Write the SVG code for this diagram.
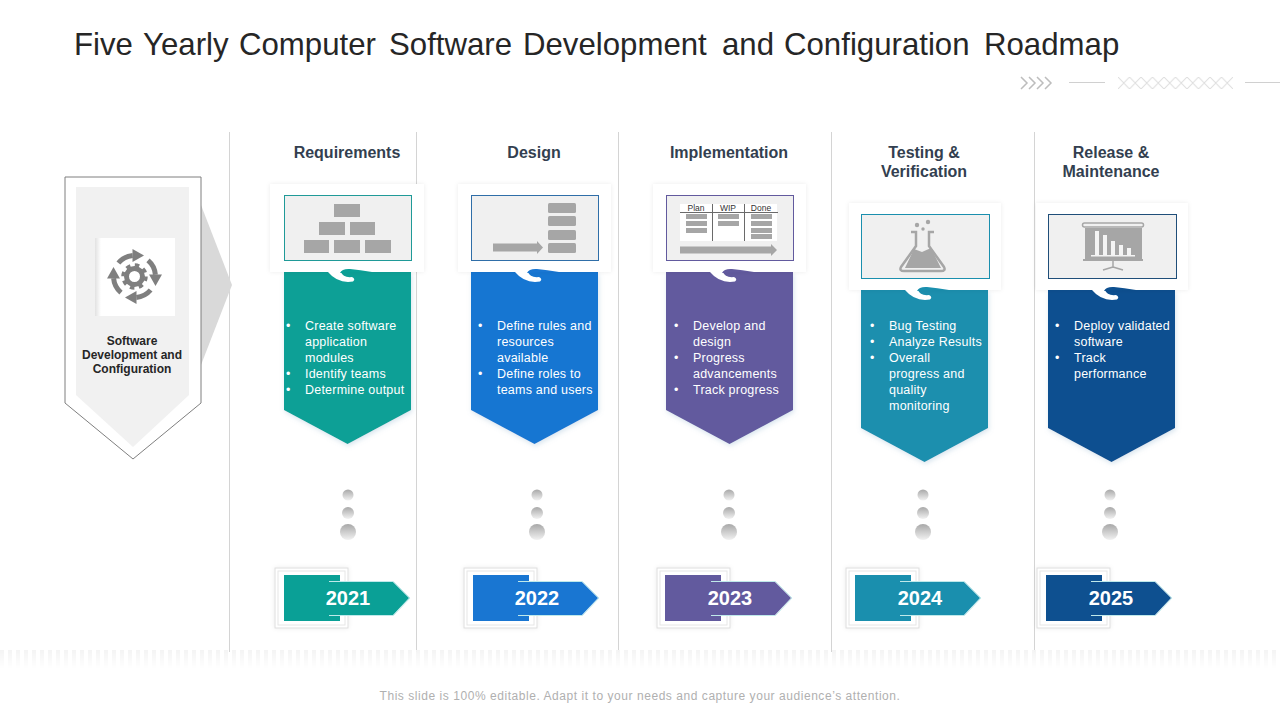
<svg xmlns="http://www.w3.org/2000/svg" xmlns:xlink="http://www.w3.org/1999/xlink" width="1280" height="720" viewBox="0 0 1280 720">
<style>
text{font-family:"Liberation Sans",Arial,sans-serif}
.title{font-size:31.2px;fill:#262626}
.head{font-size:16px;font-weight:700;fill:#333f50;text-anchor:middle}
.body{font-size:12.5px;fill:#fff;letter-spacing:.22px}
.year{font-size:20px;font-weight:700;fill:#fff;text-anchor:middle}
.side{font-size:12px;font-weight:700;fill:#262626;text-anchor:middle}
.foot{font-size:12px;fill:#b0b0b0;text-anchor:middle;letter-spacing:.55px}
.ico{fill:#a6a6a6}
.sep{stroke:#d4d4d4;stroke-width:1;fill:none}
.deco{stroke:#d0d0d0;stroke-width:1;fill:none}
.inner{fill:#f0f0f0;stroke-width:1}
.card{fill:#fff;filter:url(#soft)}
.tagline{fill:none;stroke:#bfe9ea;stroke-width:1}
</style>
<defs>
<filter id="soft" x="-10%" y="-10%" width="120%" height="125%"><feDropShadow dx="0" dy="0" stdDeviation="2" flood-color="#000" flood-opacity=".08"/></filter>
<filter id="glow" x="-10%" y="-10%" width="120%" height="120%"><feDropShadow dx="1" dy="2" stdDeviation="2.5" flood-color="#7fa8c8" flood-opacity=".3"/></filter>
<linearGradient id="ball" x1="0" y1="0" x2="0" y2="1"><stop offset="0" stop-color="#a8a8a8"/><stop offset="1" stop-color="#f2f2f2"/></linearGradient>
<linearGradient id="edge" x1="0" y1="0" x2="1" y2="0"><stop offset="0" stop-color="#e2e2e2"/><stop offset="1" stop-color="#fff"/></linearGradient>
<linearGradient id="fade" x1="0" y1="0" x2="0" y2="1"><stop offset="0" stop-color="#fff"/><stop offset="1" stop-color="#000"/></linearGradient>
<mask id="fadeMask"><rect x="0" y="650" width="1280" height="19" fill="url(#fade)"/></mask>
<pattern id="stripes" width="8" height="20" patternUnits="userSpaceOnUse"><rect width="4" height="20" fill="#f4f4f4"/></pattern>
<pattern id="crosses" width="11.5" height="12" patternUnits="userSpaceOnUse" x="1118" y="77"><path d="M0 0L11.5 12M11.5 0L0 12" stroke="#dedede" stroke-width="1" fill="none"/></pattern>
<path id="chev" d="M0 0H127V138L63.5 172L0 138Z" filter="url(#glow)"/>
<path id="swoosh" d="M44 0Q54 12 69 9.5Q72 7 68 5Q59 6 57 0Z" fill="#fff"/>
<path id="bump" d="M56 1Q58-3.500 66-3Q76-2 88 0Z"/>
<g id="dots"><ellipse cx="0" cy="0" rx="5.500" ry="5.500" fill="url(#ball)"/><ellipse cx="0" cy="18" rx="6" ry="6" fill="url(#ball)"/><ellipse cx="0" cy="37" rx="8" ry="8" fill="url(#ball)"/></g>
<g id="frame"><rect x="0" y="0" width="73" height="60" fill="#fff" stroke="#dedede" filter="url(#soft)"/><rect x="3" y="3" width="67" height="54" fill="#fff" stroke="#e6e6e6"/></g>
<g id="tagEdge"><path class="tagline" d="M54 13.500H118.500L135 30L118.500 47.500H54"/></g>
<path id="tagArrow" d="M54 14H118L134 30L118 47H54Z"/>
<g id="rot"><path d="M118.400 263A21 21 0 0 1 132.700 255.600" fill="none" stroke="#7f7f7f" stroke-width="5"/><polygon points="132.500,249 132.500,262 144,255.500" fill="#7f7f7f"/></g>
</defs>
<rect width="1280" height="720" fill="#fff"/>

<text class="title" y="55"><tspan x="74">Five</tspan> <tspan x="143">Yearly</tspan> <tspan x="239">Computer</tspan> <tspan x="389">Software</tspan> <tspan x="523">Development</tspan> <tspan x="722">and</tspan> <tspan x="784">Configuration</tspan> <tspan x="984">Roadmap</tspan></text>

<g id="top-deco">
<path class="deco" style="stroke:#bdbdbd;stroke-width:1.500" d="M1021 77L1027 83L1021 89M1029 77L1035 83L1029 89M1037 77L1043 83L1037 89M1045 77L1051 83L1045 89"/>
<path class="deco" d="M1069 82.500H1105M1245 82.500H1280"/>
<rect x="1118" y="77" width="115" height="12" fill="url(#crosses)"/>
</g>

<g id="separators">
<path class="sep" d="M229.500 132V652M416.500 132V652M618.500 132V652M831.500 132V652M1034.500 132V652"/>
</g>

<g id="source-node">
<polygon points="201,205 232,285 201,365" fill="#d9d9d9"/>
<polygon points="65,177 201,177 201,403 133,459 65,403" fill="#fff" stroke="#7f7f7f" stroke-width="1"/>
<polygon points="76,187 189,187 189,395 133,447 76,395" fill="#f1f1f1"/>
<rect x="95" y="238" width="80" height="78" fill="#fff"/>
<rect x="95" y="238" width="6" height="78" fill="url(#edge)"/>
<use xlink:href="#rot" href="#rot"/>
<use xlink:href="#rot" href="#rot" transform="rotate(90 134.500 276.500)"/>
<use xlink:href="#rot" href="#rot" transform="rotate(180 134.500 276.500)"/>
<use xlink:href="#rot" href="#rot" transform="rotate(270 134.500 276.500)"/>
<circle cx="134.500" cy="276.500" r="8" fill="none" stroke="#7f7f7f" stroke-width="5"/>
<circle cx="134.500" cy="276.500" r="11.500" fill="none" stroke="#7f7f7f" stroke-width="3.500" stroke-dasharray="4.500 4.530"/>
<text class="side"><tspan x="132" y="345">Software</tspan><tspan x="132" y="359">Development and</tspan><tspan x="132" y="373">Configuration</tspan></text>
</g>

<g id="step-requirements">
<text class="head" x="347" y="158">Requirements</text>
<use href="#chev" x="284" y="272" fill="#0aa096"/>
<rect class="card" x="270" y="184" width="154" height="88"/>
<use href="#swoosh" x="284" y="272"/>
<use href="#bump" x="284" y="272" fill="#0aa096"/>
<rect class="inner" x="284.500" y="195.500" width="127" height="65" stroke="#1f9a98"/>
<g class="ico"><rect x="334" y="204" width="26" height="13"/><rect x="319" y="222" width="26" height="13"/><rect x="350" y="222" width="25" height="13"/><rect x="304" y="240" width="25" height="13"/><rect x="334" y="240" width="26" height="13"/><rect x="365" y="240" width="26" height="13"/></g>
<text class="body"><tspan x="286" y="330">•</tspan><tspan x="305" y="330">Create software</tspan><tspan x="305" y="346">application</tspan><tspan x="305" y="362">modules</tspan><tspan x="286" y="378">•</tspan><tspan x="305" y="378">Identify teams</tspan><tspan x="286" y="394">•</tspan><tspan x="305" y="394">Determine output</tspan></text>
<use href="#dots" x="348" y="495"/>
<g transform="translate(275 568)"><use href="#frame"/><rect x="9" y="7" width="56" height="46" fill="#0aa096"/><use href="#tagEdge"/><use href="#tagArrow" fill="#0aa096"/><text class="year" x="73" y="37">2021</text></g>
</g>

<g id="step-design">
<text class="head" x="534" y="158">Design</text>
<use href="#chev" x="471" y="272" fill="#1976d2"/>
<rect class="card" x="458" y="184" width="153" height="88"/>
<use href="#swoosh" x="471" y="272"/>
<use href="#bump" x="471" y="272" fill="#1976d2"/>
<rect class="inner" x="471.500" y="195.500" width="127" height="65" stroke="#2f6ea8"/>
<g class="ico"><rect x="548" y="203" width="28" height="10" rx="1.500"/><rect x="548" y="216" width="28" height="10" rx="1.500"/><rect x="548" y="230" width="28" height="10" rx="1.500"/><rect x="548" y="243" width="28" height="10" rx="1.500"/><polygon points="493,243.500 537,243.500 537,241 543,247.500 537,254 537,251.500 493,251.500"/></g>
<text class="body"><tspan x="478" y="330">•</tspan><tspan x="497" y="330">Define rules and</tspan><tspan x="497" y="346">resources</tspan><tspan x="497" y="362">available</tspan><tspan x="478" y="378">•</tspan><tspan x="497" y="378">Define roles to</tspan><tspan x="497" y="394">teams and users</tspan></text>
<use href="#dots" x="537" y="495"/>
<g transform="translate(464 568)"><use href="#frame"/><rect x="9" y="7" width="56" height="46" fill="#1976d2"/><use href="#tagEdge"/><use href="#tagArrow" fill="#1976d2"/><text class="year" x="73" y="37">2022</text></g>
</g>

<g id="step-implementation">
<text class="head" x="729" y="158">Implementation</text>
<use href="#chev" x="666" y="272" fill="#625a9e"/>
<rect class="card" x="653" y="184" width="153" height="88"/>
<use href="#swoosh" x="666" y="272"/>
<use href="#bump" x="666" y="272" fill="#625a9e"/>
<rect class="inner" x="666.500" y="195.500" width="127" height="65" stroke="#625a9e"/>
<rect x="680" y="204" width="97" height="37" fill="#fff"/>
<path d="M680 212.500H778M712.500 204V241M744.500 204V241" stroke="#6a6a6a" stroke-width="1" fill="none"/>
<g font-size="8.500" fill="#333" text-anchor="middle"><text x="696" y="211">Plan</text><text x="728" y="211">WIP</text><text x="761" y="211">Done</text></g>
<g class="ico"><rect x="686" y="214" width="21" height="5"/><rect x="686" y="221" width="21" height="5"/><rect x="686" y="228" width="21" height="5"/><rect x="718" y="214" width="21" height="5"/><rect x="718" y="221" width="21" height="5"/><rect x="751" y="214" width="21" height="5"/><rect x="751" y="221" width="21" height="5"/><rect x="751" y="228" width="21" height="5"/><rect x="751" y="234" width="21" height="5"/><polygon points="680,246.500 771,246.500 771,244 777,250 771,256 771,253.500 680,253.500"/></g>
<text class="body"><tspan x="674" y="330">•</tspan><tspan x="693" y="330">Develop and</tspan><tspan x="693" y="346">design</tspan><tspan x="674" y="362">•</tspan><tspan x="693" y="362">Progress</tspan><tspan x="693" y="378">advancements</tspan><tspan x="674" y="394">•</tspan><tspan x="693" y="394">Track progress</tspan></text>
<use href="#dots" x="729" y="495"/>
<g transform="translate(657 568)"><use href="#frame"/><rect x="8" y="7" width="56" height="46" fill="#625a9e"/><use href="#tagEdge"/><use href="#tagArrow" fill="#625a9e"/><text class="year" x="73" y="37">2023</text></g>
</g>

<g id="step-testing">
<text class="head"><tspan x="924" y="158">Testing &amp;</tspan><tspan x="924" y="177">Verification</tspan></text>
<use href="#chev" x="861" y="290" fill="#1a8fae"/>
<rect class="card" x="849" y="203" width="152" height="87"/>
<use href="#swoosh" x="861" y="290"/>
<use href="#bump" x="861" y="290" fill="#1a8fae"/>
<rect class="inner" x="861.500" y="214.500" width="128" height="64" stroke="#1a8fae"/>
<g class="ico"><circle cx="917" cy="225" r="2.200"/><circle cx="923" cy="229" r="1.700"/><circle cx="928" cy="222" r="2.200"/>
<path d="M911 232H916V246L901 267Q899 271 904 271H941Q946 271 944 267L929 246V232H934" fill="none" stroke="#a6a6a6" stroke-width="2.500"/>
<path d="M914 249L922 252L931 248L941 268H905Z"/></g>
<text class="body"><tspan x="870" y="330">•</tspan><tspan x="889" y="330">Bug Testing</tspan><tspan x="870" y="346">•</tspan><tspan x="889" y="346">Analyze Results</tspan><tspan x="870" y="362">•</tspan><tspan x="889" y="362">Overall</tspan><tspan x="889" y="378">progress and</tspan><tspan x="889" y="394">quality</tspan><tspan x="889" y="410">monitoring</tspan></text>
<use href="#dots" x="923" y="495"/>
<g transform="translate(846 568)"><use href="#frame"/><rect x="9" y="7" width="56" height="46" fill="#1a8fae"/><use href="#tagEdge"/><use href="#tagArrow" fill="#1a8fae"/><text class="year" x="74" y="37">2024</text></g>
</g>

<g id="step-release">
<text class="head"><tspan x="1111" y="158">Release &amp;</tspan><tspan x="1111" y="177">Maintenance</tspan></text>
<use href="#chev" x="1048" y="290" fill="#0e5090"/>
<rect class="card" x="1036" y="203" width="152" height="87"/>
<use href="#swoosh" x="1048" y="290"/>
<use href="#bump" x="1048" y="290" fill="#0e5090"/>
<rect class="inner" x="1048.500" y="214.500" width="128" height="64" stroke="#1f4e79"/>
<rect x="1082.500" y="223" width="61" height="4" rx="2" fill="#f0f0f0" stroke="#a6a6a6" stroke-width="1.500"/>
<rect class="ico" x="1085" y="228" width="57" height="31"/>
<rect class="ico" x="1083" y="259" width="60" height="2"/>
<path d="M1113 261V268M1113 267L1103 270M1113 267L1123 270" stroke="#a6a6a6" stroke-width="1.500" fill="none"/>
<g fill="#f4f4f4"><rect x="1095" y="231" width="4" height="24"/><rect x="1103" y="235" width="4" height="20"/><rect x="1111" y="241" width="4" height="14"/><rect x="1119" y="245" width="4" height="10"/><rect x="1127" y="248" width="4" height="7"/><rect x="1091" y="255" width="44" height="1.500"/></g>
<text class="body"><tspan x="1055" y="330">•</tspan><tspan x="1074" y="330">Deploy validated</tspan><tspan x="1074" y="346">software</tspan><tspan x="1055" y="362">•</tspan><tspan x="1074" y="362">Track</tspan><tspan x="1074" y="378">performance</tspan></text>
<use href="#dots" x="1110" y="495"/>
<g transform="translate(1037 568)"><use href="#frame"/><rect x="9" y="7" width="56" height="46" fill="#0e5090"/><use href="#tagEdge"/><use href="#tagArrow" fill="#0e5090"/><text class="year" x="74" y="37">2025</text></g>
</g>

<g id="footer">
<rect x="0" y="650" width="1280" height="19" fill="url(#stripes)" mask="url(#fadeMask)"/>
<text class="foot" x="640" y="700">This slide is 100% editable. Adapt it to your needs and capture your audience’s attention.</text>
</g>
</svg>
